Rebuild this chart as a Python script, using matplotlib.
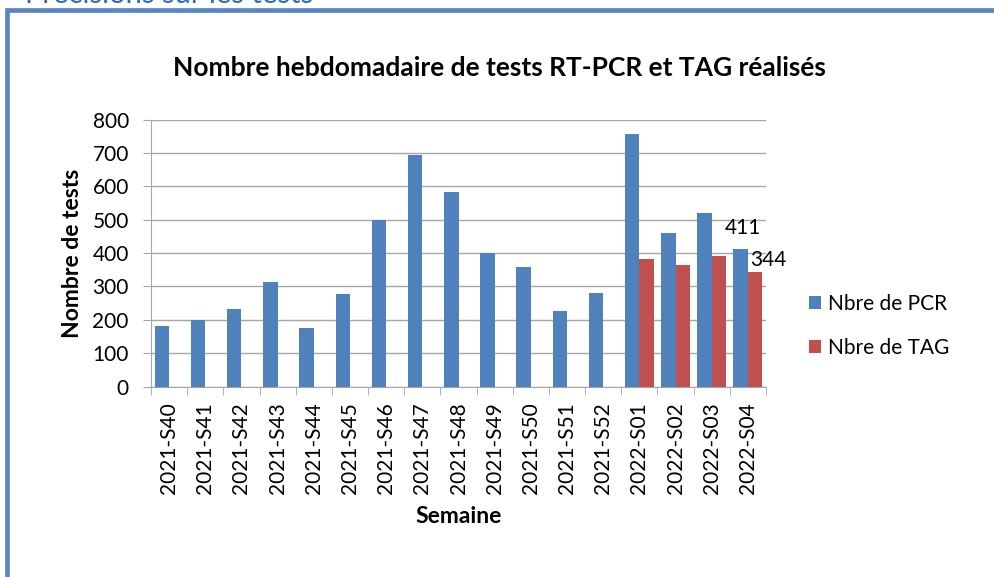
import numpy as np
import matplotlib.pyplot as plt
from matplotlib.patches import Rectangle

# weekly counts
semaines = ['2021-S40', '2021-S41', '2021-S42', '2021-S43', '2021-S44', '2021-S45',
            '2021-S46', '2021-S47', '2021-S48', '2021-S49', '2021-S50', '2021-S51',
            '2021-S52', '2022-S01', '2022-S02', '2022-S03', '2022-S04']
nb_pcr = [182, 200, 232, 313, 175, 279, 500, 694, 583, 399, 359, 228, 282, 756, 459, 520, 411]
nb_tag = [np.nan] * 13 + [382, 364, 390, 344]

blue = '#4F81BD'
red = '#C0504D'
grid_col = '#A6A6A6'

plt.rcParams['font.family'] = ['Lato', 'DejaVu Sans']

fig = plt.figure(figsize=(9.95, 5.77), dpi=100)

# outer frame of the slide box (runs off the right and bottom edges)
fig.patches.append(Rectangle((7.5 / 995, -0.1), 1.2, 1 - 9.5 / 577 + 0.1, transform=fig.transFigure,
                             fill=False, edgecolor='#5A87C3', lw=3.4, zorder=0))
fig.text(25 / 995, 1 - 3 / 577, 'Précisions sur les tests', color='#2E6DB4', fontsize=21,
         va='baseline', ha='left')

ax = fig.add_axes([151 / 995, 1 - 386.7 / 577, 615 / 995, (386.7 - 119.5) / 577])
x = np.arange(len(semaines))
w = 0.4
ax.bar(x - w / 2, nb_pcr, w, color=blue, label='Nbre de PCR', zorder=3)
ax.bar(x + w / 2, nb_tag, w, color=red, label='Nbre de TAG', zorder=3)

ax.set_xlim(-0.5, len(semaines) - 0.5)
ax.set_ylim(0, 800)
ax.set_yticks(range(0, 801, 100))
ax.yaxis.grid(True, color=grid_col, lw=1)
ax.set_axisbelow(True)

ax.set_xticks(x)
ax.set_xticklabels(semaines, rotation=90, fontsize=15)
ax.set_xticks(np.arange(-0.5, len(semaines), 1), minor=True)
ax.tick_params(axis='x', which='major', length=0, pad=11)
ax.tick_params(axis='x', which='minor', length=6, color=grid_col)
ax.tick_params(axis='y', length=6, color=grid_col, labelsize=15, pad=10)

for s in ['top', 'right']:
    ax.spines[s].set_visible(False)
for s in ['left', 'bottom']:
    ax.spines[s].set_color(grid_col)

ax.set_ylabel('Nombre de tests', fontsize=16.5, fontweight='bold', labelpad=7)
ax.set_xlabel('Semaine', fontsize=16.5, fontweight='bold', labelpad=9)

# data labels on the last week only
i = len(semaines) - 1
ax.annotate(str(nb_pcr[i]), (x[i] - w / 2, nb_pcr[i]), xytext=(2, 8), textcoords='offset points',
            ha='center', va='bottom', fontsize=15)
ax.annotate(str(nb_tag[i]), (x[i] + 0.05, nb_tag[i]), xytext=(0, 1), textcoords='offset points',
            ha='left', va='bottom', fontsize=15)

fig.text(0.502, 1 - 68 / 577, 'Nombre hebdomadaire de tests RT-PCR et TAG réalisés',
         ha='center', va='center', fontsize=19, fontweight='bold')

fig.legend(loc='center left', bbox_to_anchor=(809 / 995, 1 - 326 / 577), frameon=False,
           borderpad=0, borderaxespad=0, fontsize=15, handlelength=0.6, handleheight=0.6,
           handletextpad=0.3, labelspacing=1.15)

fig.savefig('out.png', dpi=100)
